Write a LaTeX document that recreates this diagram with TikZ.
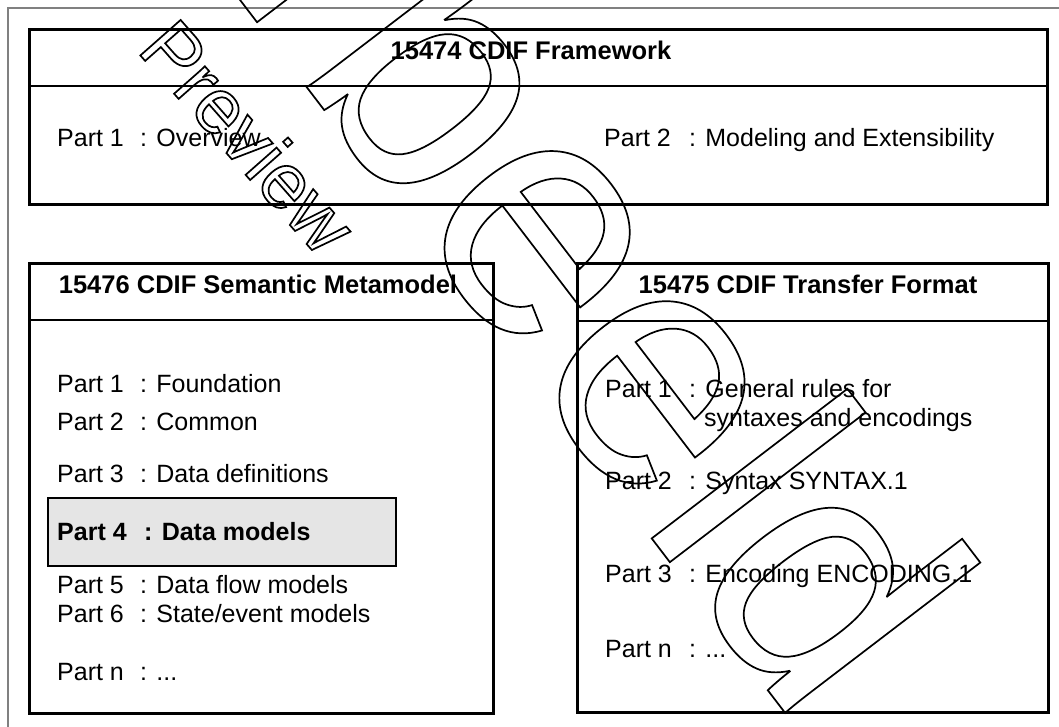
\documentclass[tikz,border=0pt]{standalone}
\usepackage{fontspec}
\setmainfont{Liberation Sans}
\newfontfamily\wmfont{Liberation Sans}
\newcommand\partline[3]{\makebox[#1][l]{#2}: #3}
\newcommand\outlined[1]{\special{pdf:literal direct 1 Tr 1.7 w}#1\special{pdf:literal direct 0 Tr}}
\tikzset{
  framebox/.style={draw=black, line width=2.6pt, inner sep=0pt, anchor=north west},
  divider/.style={draw=black, line width=1.8pt},
  outerframe/.style={draw=black!50, line width=1.6pt},
  hibox/.style={draw=black, fill=black!10, line width=2.2pt, inner sep=0pt, anchor=north west},
  titletext/.style={font=\fontsize{25.5}{30}\selectfont\bfseries, anchor=base, inner sep=0pt},
  itemtext/.style={font=\fontsize{25}{30}\selectfont, anchor=base west, inner sep=0pt},
  bolditem/.style={font=\fontsize{25}{30}\selectfont\bfseries, anchor=base west, inner sep=0pt},
  watermark/.style={anchor=base west, inner sep=0pt, text=black}
}
\begin{document}
\begin{tikzpicture}[x=1pt,y=-1pt]
\useasboundingbox (0,0) rectangle (1059,727);
\begin{scope}
\clip (0,0) rectangle (1059,727);
% outer frame (extends beyond right and bottom)
\draw[outerframe] (8,8) rectangle (1090,760);

% top box
\node[framebox, minimum width=1018pt, minimum height=175pt] (fw) at (28,28) {};
\coordinate (fwdl) at (28,86);
\coordinate (fwdr) at (1046,86);
\draw[divider] (fwdl) -- (fwdr);
\node[titletext] (fwt) at (531,60) {15474 CDIF Framework};
\node[itemtext] (fw1) at (57,147) {\partline{83pt}{Part 1}{Overview}};
\node[itemtext] (fw2) at (604,147) {\partline{85pt}{Part 2}{Modeling and Extensibility}};

% left box
\node[framebox, minimum width=464pt, minimum height=450pt] (sm) at (28,262) {};
\coordinate (smdl) at (28,320);
\coordinate (smdr) at (492,320);
\draw[divider] (smdl) -- (smdr);
\node[titletext] (smt) at (258,293) {15476 CDIF Semantic Metamodel};
\node[hibox, minimum width=348pt, minimum height=68pt] (hl) at (47,497) {};
\node[itemtext] (sm1) at (57,392) {\partline{83pt}{Part 1}{Foundation}};
\node[itemtext] (sm2) at (57,430) {\partline{83pt}{Part 2}{Common}};
\node[itemtext] (sm3) at (57,482) {\partline{83pt}{Part 3}{Data definitions}};
\node[bolditem] (sm4) at (57,540) {\partline{87pt}{Part 4}{Data models}};
\node[itemtext] (sm5) at (57,593) {\partline{83pt}{Part 5}{Data flow models}};
\node[itemtext] (sm6) at (57,622) {\partline{83pt}{Part 6}{State/event models}};
\node[itemtext] (smn) at (57,680) {\partline{83pt}{Part n}{...}};

% right box
\node[framebox, minimum width=471pt, minimum height=449pt] (tf) at (576,262) {};
\coordinate (tfdl) at (576,321);
\coordinate (tfdr) at (1047,321);
\draw[divider] (tfdl) -- (tfdr);
\node[titletext] (tft) at (808,293) {15475 CDIF Transfer Format};
\node[itemtext] (tf1) at (605,397) {\partline{84pt}{Part 1}{General rules for}};
\node[itemtext] (tf1b) at (704,426) {syntaxes and encodings};
\node[itemtext] (tf2) at (605,489) {\partline{84pt}{Part 2}{Syntax SYNTAX.1}};
\node[itemtext] (tf3) at (605,582) {\partline{84pt}{Part 3}{Encoding ENCODING.1}};
\node[itemtext] (tfn) at (605,657) {\partline{84pt}{Part n}{...}};

% watermark
\node[watermark, rotate=-48.6, font=\wmfont\fontsize{78}{78}\selectfont] (wm1) at (136,50.5) {\outlined{Preview}};
\node[watermark, rotate=-52.6, font=\wmfont\fontsize{340}{340}\selectfont] (wm2) at (-131.5,-486) {\outlined{Voorbeeld}};
\end{scope}
\end{tikzpicture}
\end{document}
